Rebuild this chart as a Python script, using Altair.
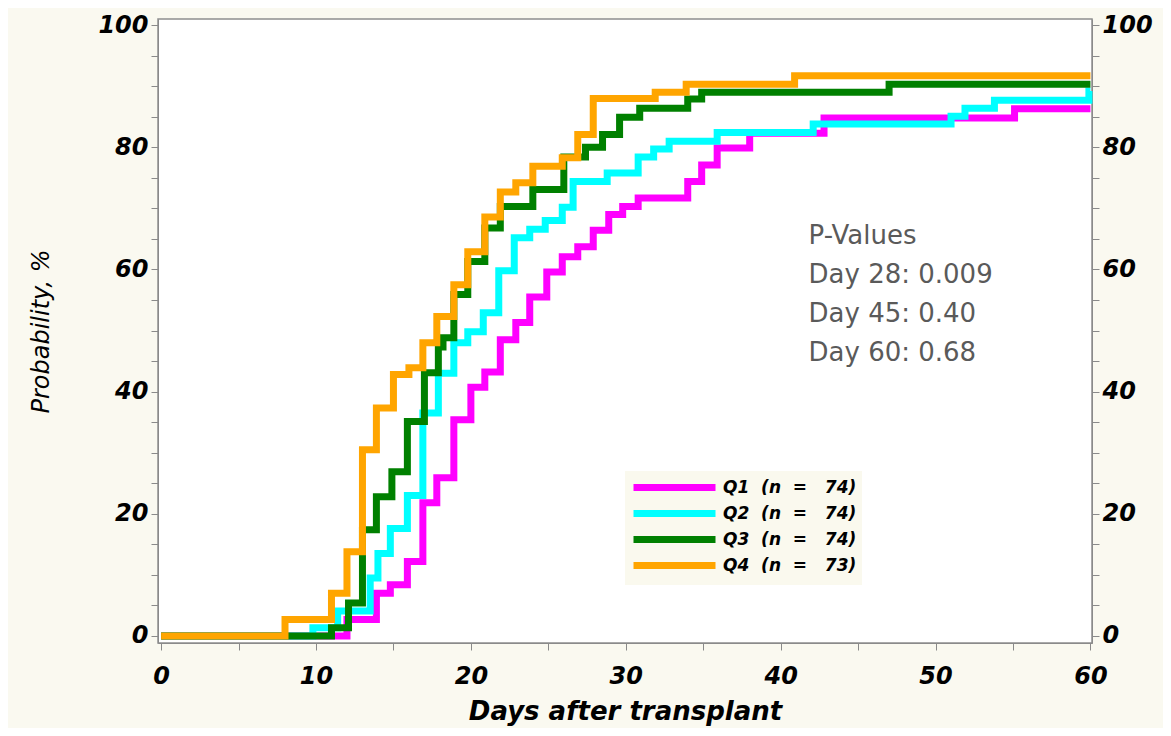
import altair as alt
import pandas as pd

# ---- data (days after transplant, cumulative probability %) ----
q1_days = [0, 12.0, 13.9, 14.8, 15.9, 16.9, 17.8, 18.9, 20.0, 20.9, 21.9, 22.9, 23.8, 24.9,
           25.9, 26.9, 27.9, 28.9, 29.8, 30.8, 34.0, 34.9, 35.9, 38.0, 42.8, 55.1, 60]
q1_vals = [0, 2.7, 7.0, 8.4, 12.2, 21.8, 25.9, 35.4, 40.7, 43.2, 48.5, 51.3, 55.5, 59.6,
           62.1, 63.7, 66.4, 69.0, 70.3, 71.7, 74.4, 77.1, 79.9, 82.3, 84.8, 86.3, 86.3]

q2_days = [0, 9.8, 11.4, 13.5, 14.0, 14.8, 15.9, 16.9, 17.9, 18.9, 19.8, 20.8, 21.8, 22.8,
           23.8, 24.8, 25.9, 26.6, 28.8, 30.8, 31.8, 32.8, 35.9, 42.1, 51.0, 51.9, 53.8, 59.9, 60]
q2_vals = [0, 1.35, 4.1, 9.5, 13.5, 17.6, 23.0, 36.5, 43.0, 48.0, 49.8, 52.9, 59.8, 65.2,
           66.6, 68.0, 70.2, 74.4, 75.8, 78.4, 79.7, 81.0, 82.4, 83.8, 85.1, 86.4, 87.7, 89.2, 89.2]

q3_days = [0, 11.0, 12.1, 13.0, 13.9, 14.9, 15.9, 17.0, 17.9, 18.2, 18.9, 19.8, 20.9, 21.9,
           24.0, 26.0, 27.4, 28.5, 29.6, 30.9, 34.0, 34.9, 47.0, 60]
q3_vals = [0, 1.35, 5.4, 17.4, 22.8, 26.9, 35.1, 43.1, 47.3, 48.8, 55.9, 61.3, 66.8, 70.3,
           73.1, 78.4, 80.0, 82.1, 84.9, 86.4, 87.9, 89.0, 90.3, 90.3]

q4_days = [0, 8.0, 11.0, 12.0, 13.0, 13.9, 15.0, 16.0, 16.9, 17.8, 18.9, 19.8, 20.9, 21.9,
           22.9, 24.0, 25.9, 26.9, 27.9, 31.9, 33.9, 40.9, 60]
q4_vals = [0, 2.7, 7.0, 13.8, 30.5, 37.3, 42.8, 43.9, 48.0, 52.3, 57.5, 62.9, 68.6, 72.7,
           74.2, 76.9, 78.3, 82.1, 88.0, 89.0, 90.3, 91.7, 91.7]

groups = ["Q1\u00a0 (n\u00a0 =\u00a0\u00a0 74)",
          "Q2\u00a0 (n\u00a0 =\u00a0\u00a0 74)",
          "Q3\u00a0 (n\u00a0 =\u00a0\u00a0 74)",
          "Q4\u00a0 (n\u00a0 =\u00a0\u00a0 73)"]
colors = ["#FF00FF", "#00FFFF", "#008000", "#FFA500"]

pv_text = ["P-Values", "Day 28: 0.009", "Day 45: 0.40", "Day 60: 0.68"]
pv_day = [41.8, 41.8, 41.8, 41.8]
pv_pct = [65.4, 59.1, 52.7, 46.4]

# ---- tables ----
rows = []
for g, d, v in zip(groups, [q1_days, q2_days, q3_days, q4_days], [q1_vals, q2_vals, q3_vals, q4_vals]):
    for i, (a, b) in enumerate(zip(d, v)):
        rows.append({"group": g, "day": a, "pct": b, "order": i})
df = pd.DataFrame(rows)
df_pv = pd.DataFrame({"day": pv_day, "pct": pv_pct, "txt": pv_text})

xscale = alt.Scale(domain=[-0.2, 60.1], nice=False, zero=False)
yscale = alt.Scale(domain=[-1.15, 101], nice=False, zero=False)

common = dict(labelFont="DejaVu Sans", labelFontSize=24, labelFontStyle="italic",
              labelFontWeight="bold", labelColor="#000000", tickColor="#8a8a8a",
              domainColor="#8a8a8a", tickSize=7, grid=False, labelFlush=False,
              labelOverlap=False)

x_enc = alt.X("day:Q", scale=xscale,
              axis=alt.Axis(values=list(range(0, 61, 5)),
                            labelExpr="datum.value % 10 == 0 ? datum.label : ''",
                            title="Days after transplant", titleFont="DejaVu Sans",
                            titleFontSize=26, titleFontStyle="italic", titleFontWeight="bold",
                            titleColor="#000000", labelPadding=14, titlePadding=10, **common))

y_left = alt.Y("pct:Q", scale=yscale,
               axis=alt.Axis(values=list(range(0, 101, 5)), orient="left",
                             labelExpr="datum.value % 20 == 0 ? datum.label : ''",
                             title="Probability, %", titleFont="DejaVu Sans", titleFontSize=24,
                             titleFontStyle="italic", titleFontWeight="normal",
                             titleColor="#000000", labelPadding=3, titlePadding=44, **common))

y_right = alt.Y("pct:Q", scale=yscale,
                axis=alt.Axis(values=list(range(0, 101, 5)), orient="right",
                              labelExpr="datum.value % 20 == 0 ? datum.label : ''",
                              title=None, labelPadding=3, **common))

lines = alt.Chart(df).mark_line(interpolate="step-after", strokeWidth=7,
                                strokeJoin="miter", strokeCap="butt").encode(
    x=x_enc,
    y=y_left,
    color=alt.Color("group:N", scale=alt.Scale(domain=groups, range=colors),
                    legend=alt.Legend(title=None, orient="none", legendX=467, legendY=452,
                                      symbolType="M-1,0H9.25", symbolSize=256,
                                      symbolStrokeWidth=7, labelOffset=70,
                                      labelFont="DejaVu Sans", labelFontSize=17,
                                      labelFontStyle="italic", labelFontWeight="bold",
                                      labelColor="#000000", fillColor="#FAF9EE",
                                      padding=5, rowPadding=-3)),
    order="order:Q",
)

texts = alt.Chart(df_pv).mark_text(align="left", baseline="middle", font="DejaVu Sans",
                                   fontSize=26, color="#5a5a5a").encode(
    x=x_enc,
    y=y_right,
    text="txt:N",
)

chart = alt.layer(lines, texts).resolve_axis(y="independent").properties(
    width=934, height=624,
    padding={"left": 150, "top": 11, "right": 71, "bottom": 85},
    autosize=alt.AutoSizeParams(type="none"),
    background="#FAF9F0",
).configure_view(fill="white", stroke="#8f8f8f", strokeWidth=1.5)

chart.save("out.html", embed_options={"renderer": "svg", "actions": False})
